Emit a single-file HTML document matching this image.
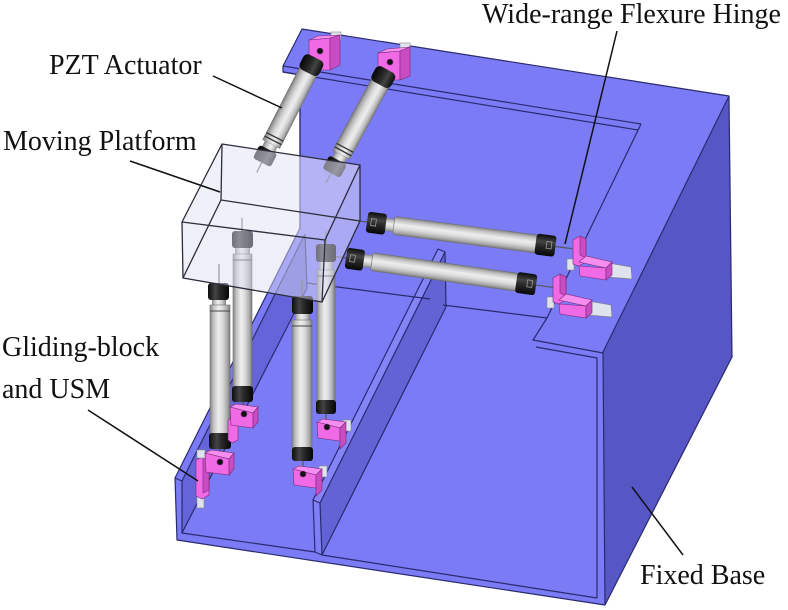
<!DOCTYPE html>
<html>
<head>
<meta charset="utf-8">
<style>
html,body{margin:0;padding:0;background:#fff;}
svg{display:block;}
text{font-family:"Liberation Serif","DejaVu Serif",serif;font-size:28px;fill:#111;}
</style>
</head>
<body>
<svg width="788" height="610" viewBox="0 0 788 610" xmlns="http://www.w3.org/2000/svg">
<defs>
<linearGradient id="tg" x1="0" y1="0" x2="0" y2="1">
<stop offset="0" stop-color="#858585"/><stop offset=".18" stop-color="#c2c2c2"/><stop offset=".42" stop-color="#eeeeee"/><stop offset=".62" stop-color="#dcdcdc"/><stop offset=".85" stop-color="#adadad"/><stop offset="1" stop-color="#7a7a7a"/>
</linearGradient>
<linearGradient id="tv" x1="0" y1="0" x2="1" y2="0">
<stop offset="0" stop-color="#858585"/><stop offset=".18" stop-color="#c2c2c2"/><stop offset=".42" stop-color="#eeeeee"/><stop offset=".62" stop-color="#dcdcdc"/><stop offset=".85" stop-color="#adadad"/><stop offset="1" stop-color="#7a7a7a"/>
</linearGradient>
<linearGradient id="cg" x1="0" y1="0" x2="0" y2="1">
<stop offset="0" stop-color="#0c0c0c"/><stop offset=".35" stop-color="#444"/><stop offset=".55" stop-color="#2a2a2a"/><stop offset="1" stop-color="#060606"/>
</linearGradient>
<linearGradient id="cv" x1="0" y1="0" x2="1" y2="0">
<stop offset="0" stop-color="#0c0c0c"/><stop offset=".35" stop-color="#444"/><stop offset=".55" stop-color="#2a2a2a"/><stop offset="1" stop-color="#060606"/>
</linearGradient>
</defs>

<!-- ===== FIXED BASE ===== -->
<path d="M302,29 L729,96 L732,357 L605,605 L177,540 L175,478 L300,228 L300,75 L283,72 L283,66 Z" fill="#7b7bf5"/>
<path d="M729,96 L732,357 L605,605 L603,352 Z" fill="#5656c4"/>
<path d="M182,481 L305,234 L307,288 L182,533 Z" fill="#6565d9"/>
<path d="M320,503 L445,252 L446,307 L322,555 Z" fill="#6363d6"/>
<path d="M313,500 L438,249 L445,252 L320,503 Z" fill="#8484f8"/>
<path d="M313,500 L320,503 L322,555 L315,552 Z" fill="#7e7ef6"/>

<g fill="none" stroke="#2a2a6e" stroke-width="1.2" stroke-linejoin="round">
<path d="M302,29 L729,96 L732,357 L605,605 L177,540 L175,478 L300,228 L300,75 L283,72 L283,66 Z"/>
<path d="M729,96 L603,352 L605,605"/>
<path d="M283,66 L641,124"/>
<path d="M283,72 L638,130"/>
<path d="M641,124 L547,318"/>
<path d="M443,305 L547,318"/>
<path d="M547,318 L533,340 L603,353"/>
<path d="M536,347 L597,358 L597,598"/>
<path d="M182,533 L315,552"/>
<path d="M322,555 L597,598"/>
<path d="M300,75 L300,228"/>
<path d="M175,478 L182,481 L305,234"/>
<path d="M182,481 L182,533 L307,288"/>
<path d="M305,234 L307,288"/>
<path d="M307,283 L430,299"/>
<path d="M313,500 L438,249 L445,252 L446,307"/>
<path d="M320,503 L445,252"/>
<path d="M313,500 L320,503 L322,555 L315,552 Z"/>
<path d="M322,555 L446,307"/>
</g>

<!-- ===== TOP PINK BLOCKS ===== -->
<g stroke="#7a2a78" stroke-width=".6">
<rect x="331" y="32" width="10" height="8" fill="#dfe3ee" stroke="#888"/>
<polygon points="309,40 330,38 330,70 309,70" fill="#f06ae6"/>
<polygon points="330,38 340,35 340,65 330,70" fill="#c94cc2"/>
<polygon points="309,40 318,36 340,35 330,38" fill="#f68ef0"/>
<circle cx="320" cy="51" r="3" fill="#111"/>

<rect x="400" y="43" width="10" height="8" fill="#dfe3ee" stroke="#888"/>
<polygon points="378,53 400,51 400,80 378,80" fill="#f06ae6"/>
<polygon points="400,51 410,47 410,76 400,80" fill="#c94cc2"/>
<polygon points="378,53 387,49 410,47 400,51" fill="#f68ef0"/>
<circle cx="390" cy="62" r="3" fill="#111"/>
</g>

<!-- ===== INCLINED ACTUATORS ===== -->
<g transform="translate(313,62) rotate(117)">
<rect x="10" y="-9.5" width="82" height="19" fill="url(#tg)" stroke="#6e6e6e" stroke-width=".6"/>
<line x1="84" y1="-9.5" x2="84" y2="9.5" stroke="#333" stroke-width="1.3"/>
<line x1="88" y1="-9.5" x2="88" y2="9.5" stroke="#333" stroke-width="1.3"/>
<rect x="92" y="-7" width="7" height="14" fill="url(#tg)"/>
<rect x="98" y="-10" width="15" height="20" rx="3" fill="url(#cg)"/>
<line x1="113" y1="0" x2="124" y2="0" stroke="#555" stroke-width="1.2"/>
<rect x="-5" y="-11" width="17" height="22" rx="5" fill="url(#cg)"/>
</g>
<g transform="translate(385,74) rotate(118.5)">
<rect x="10" y="-9.5" width="82" height="19" fill="url(#tg)" stroke="#6e6e6e" stroke-width=".6"/>
<line x1="84" y1="-9.5" x2="84" y2="9.5" stroke="#333" stroke-width="1.3"/>
<line x1="88" y1="-9.5" x2="88" y2="9.5" stroke="#333" stroke-width="1.3"/>
<rect x="92" y="-7" width="7" height="14" fill="url(#tg)"/>
<rect x="98" y="-10" width="15" height="20" rx="3" fill="url(#cg)"/>
<line x1="113" y1="0" x2="124" y2="0" stroke="#555" stroke-width="1.2"/>
<rect x="-5" y="-11" width="17" height="22" rx="5" fill="url(#cg)"/>
</g>

<!-- ===== HORIZONTAL ACTUATORS ===== -->
<g transform="translate(367,222) rotate(7.4)">
<line x1="-16" y1="0" x2="0" y2="0" stroke="#555" stroke-width="1.2"/>
<rect x="0" y="-10.5" width="19" height="21" rx="3" fill="url(#cg)"/>
<rect x="4" y="-4" width="5" height="7" fill="none" stroke="#999" stroke-width=".8"/>
<rect x="19" y="-6.5" width="9" height="13" fill="url(#tg)"/>
<rect x="27" y="-9" width="144" height="18" rx="2" fill="url(#tg)" stroke="#6e6e6e" stroke-width=".6"/>
<rect x="170" y="-10.5" width="20" height="21" rx="3" fill="url(#cg)"/>
<rect x="181" y="-4" width="5" height="7" fill="none" stroke="#999" stroke-width=".8"/>
<line x1="190" y1="0" x2="207" y2="0" stroke="#555" stroke-width="1.2"/>
</g>
<g transform="translate(346,258) rotate(8.1)">
<line x1="-14" y1="0" x2="0" y2="0" stroke="#555" stroke-width="1.2"/>
<rect x="0" y="-10.5" width="18" height="21" rx="3" fill="url(#cg)"/>
<rect x="4" y="-4" width="5" height="7" fill="none" stroke="#999" stroke-width=".8"/>
<rect x="18" y="-6.5" width="9" height="13" fill="url(#tg)"/>
<rect x="26" y="-9" width="147" height="18" rx="2" fill="url(#tg)" stroke="#6e6e6e" stroke-width=".6"/>
<rect x="172" y="-10.5" width="20" height="21" rx="3" fill="url(#cg)"/>
<rect x="183" y="-4" width="5" height="7" fill="none" stroke="#999" stroke-width=".8"/>
<line x1="192" y1="0" x2="209" y2="0" stroke="#555" stroke-width="1.2"/>
</g>

<!-- ===== FLEXURE HINGES ===== -->
<g stroke="#7a2a78" stroke-width=".6">
<rect x="567" y="259" width="7" height="11" fill="#dfe3ee" stroke="#888"/>
<polygon points="608,263 631,267 632,279 608,277" fill="#dfe3ee" stroke="#777"/>
<polygon points="573,240 580,236 586,239 586,262 579,266 573,264" fill="#f06ae6"/>
<polygon points="580,236 586,239 586,258 580,255" fill="#c94cc2"/>
<polygon points="579,262 586,256 612,262 606,268" fill="#f68ef0"/>
<polygon points="579,266 606,268 606,280 580,276" fill="#f06ae6"/>
<polygon points="606,268 612,262 612,275 606,280" fill="#c94cc2"/>

<rect x="547" y="297" width="7" height="11" fill="#dfe3ee" stroke="#888"/>
<polygon points="588,301 611,305 612,317 588,315" fill="#dfe3ee" stroke="#777"/>
<polygon points="553,278 560,274 566,277 566,300 559,304 553,302" fill="#f06ae6"/>
<polygon points="560,274 566,277 566,296 560,293" fill="#c94cc2"/>
<polygon points="559,300 566,294 592,300 586,306" fill="#f68ef0"/>
<polygon points="559,304 586,306 586,318 560,314" fill="#f06ae6"/>
<polygon points="586,306 592,300 592,313 586,318" fill="#c94cc2"/>
</g>

<!-- ===== VERTICAL ACTUATORS ===== -->
<g>
<!-- B -->
<line x1="242" y1="218" x2="242" y2="231" stroke="#555" stroke-width="1.2"/>
<rect x="232" y="231" width="21" height="17" rx="3" fill="url(#cv)"/>
<rect x="235" y="248" width="15" height="7" fill="url(#tv)"/>
<rect x="233" y="254" width="19" height="133" fill="url(#tv)" stroke="#6e6e6e" stroke-width=".6"/>
<line x1="233" y1="260" x2="252" y2="260" stroke="#444"/>
<rect x="232" y="386" width="21" height="16" rx="3" fill="url(#cv)"/>
<line x1="243" y1="402" x2="244" y2="409" stroke="#555" stroke-width="1.2"/>
<!-- D -->
<line x1="326" y1="231" x2="326" y2="244" stroke="#555" stroke-width="1.2"/>
<rect x="316" y="244" width="20" height="18" rx="3" fill="url(#cv)"/>
<rect x="319" y="262" width="14" height="8" fill="url(#tv)"/>
<rect x="317" y="270" width="18" height="131" fill="url(#tv)" stroke="#6e6e6e" stroke-width=".6"/>
<line x1="317" y1="276" x2="335" y2="276" stroke="#444"/>
<rect x="316" y="400" width="20" height="14" rx="3" fill="url(#cv)"/>
<line x1="326" y1="414" x2="326" y2="421" stroke="#555" stroke-width="1.2"/>
<!-- A -->
<line x1="219" y1="264" x2="219" y2="283" stroke="#555" stroke-width="1.2"/>
<rect x="208" y="283" width="21" height="17" rx="3" fill="url(#cv)"/>
<rect x="212" y="300" width="14" height="6" fill="url(#tv)"/>
<rect x="210" y="305" width="20" height="129" fill="url(#tv)" stroke="#6e6e6e" stroke-width=".6"/>
<line x1="210" y1="311" x2="230" y2="311" stroke="#444"/>
<rect x="209" y="433" width="22" height="16" rx="3" fill="url(#cv)"/>
<line x1="220" y1="449" x2="220" y2="456" stroke="#555" stroke-width="1.2"/>
<!-- C -->
<line x1="302" y1="279" x2="302" y2="296" stroke="#555" stroke-width="1.2"/>
<rect x="292" y="296" width="21" height="18" rx="3" fill="url(#cv)"/>
<rect x="295" y="314" width="15" height="7" fill="url(#tv)"/>
<rect x="292" y="320" width="20" height="128" fill="url(#tv)" stroke="#6e6e6e" stroke-width=".6"/>
<line x1="292" y1="326" x2="312" y2="326" stroke="#444"/>
<rect x="292" y="447" width="21" height="14" rx="3" fill="url(#cv)"/>
<line x1="303" y1="461" x2="303" y2="468" stroke="#555" stroke-width="1.2"/>
</g>

<!-- ===== GLIDING BLOCKS ===== -->
<g stroke="#7a2a78" stroke-width=".6">
<!-- A -->
<rect x="197" y="495" width="7" height="13" fill="#dfe3ee" stroke="#888"/>
<polygon points="196,460 203,457 209,460 209,495 202,499 196,496" fill="#f06ae6"/>
<polygon points="203,457 209,460 209,490 203,493" fill="#c94cc2"/>
<rect x="197" y="450" width="8" height="8" fill="#dfe3ee" stroke="#888"/>
<polygon points="205,453 211,450 234,453 229,459" fill="#f68ef0"/>
<polygon points="205,453 229,459 229,475 206,472" fill="#f06ae6"/>
<polygon points="229,459 234,453 234,469 229,475" fill="#c94cc2"/>
<circle cx="220" cy="462" r="3" fill="#111"/>
<!-- B -->
<polygon points="228,420 234,417 238,420 238,440 232,443 228,440" fill="#f06ae6"/>
<polygon points="230,407 236,404 258,407 253,413" fill="#f68ef0"/>
<polygon points="230,407 253,413 253,428 231,425" fill="#f06ae6"/>
<polygon points="253,413 258,407 258,422 253,428" fill="#c94cc2"/>
<circle cx="244" cy="414" r="3" fill="#111"/>
<!-- C -->
<rect x="319" y="466" width="8" height="11" fill="#dfe3ee" stroke="#888"/>
<polygon points="293,469 299,466 322,469 316,475" fill="#f68ef0"/>
<polygon points="293,469 316,475 316,488 294,485" fill="#f06ae6"/>
<polygon points="316,475 322,469 322,490 316,496" fill="#c94cc2"/>
<circle cx="303" cy="474" r="3" fill="#111"/>
<!-- D -->
<rect x="343" y="420" width="8" height="11" fill="#dfe3ee" stroke="#888"/>
<polygon points="317,422 323,419 346,422 340,428" fill="#f68ef0"/>
<polygon points="317,422 340,428 340,441 318,438" fill="#f06ae6"/>
<polygon points="340,428 346,422 346,443 340,449" fill="#c94cc2"/>
<circle cx="327" cy="427" r="3" fill="#111"/>
</g>

<!-- ===== MOVING PLATFORM (transparent) ===== -->
<polygon points="222,144 360,165 360,221 322,302 183,278 182,222" fill="rgba(222,222,242,0.48)"/>
<polygon points="222,144 360,165 325,240 182,222" fill="rgba(245,245,255,0.12)"/>
<g fill="none" stroke="#2c2c3c" stroke-width="1.3" stroke-linejoin="round">
<path d="M222,144 L360,165 L325,240 L182,222 Z"/>
<path d="M182,222 L183,278 L322,302 L325,240"/>
<path d="M360,165 L360,221 L322,302"/>
<path d="M222,144 L221,200 L360,221"/>
<path d="M221,200 L183,278"/>
</g>

<!-- ===== LABELS & LEADERS ===== -->
<g stroke="#111" stroke-width="1.5" fill="none">
<line x1="617" y1="31" x2="565" y2="244"/>
<line x1="213" y1="76" x2="282" y2="108"/>
<line x1="130" y1="161" x2="220" y2="192"/>
<line x1="88" y1="410" x2="198" y2="481"/>
<line x1="632" y1="487" x2="683" y2="555"/>
</g>
<text x="482" y="23">Wide-range Flexure Hinge</text>
<text x="49" y="74">PZT Actuator</text>
<text x="3" y="150">Moving Platform</text>
<text x="2" y="356">Gliding-block</text>
<text x="2" y="398">and USM</text>
<text x="640" y="584">Fixed Base</text>
</svg>
</body>
</html>
